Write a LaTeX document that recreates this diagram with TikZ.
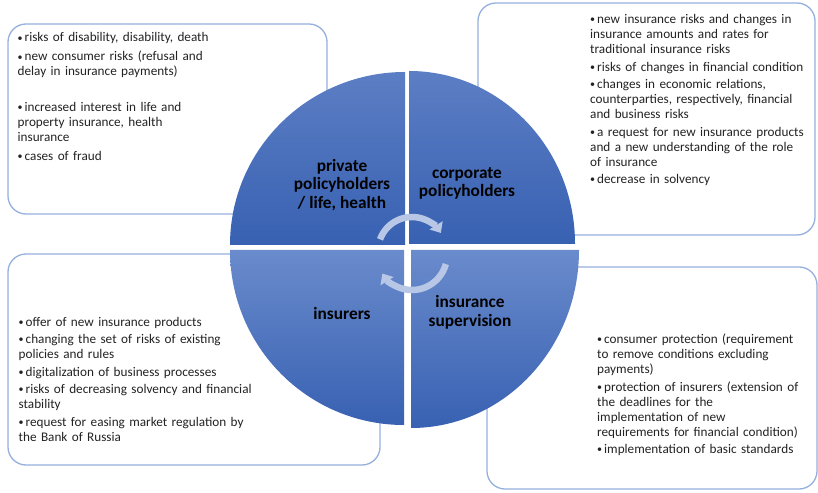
\documentclass[tikz,border=0pt]{standalone}
\usepackage{fontspec}
\setmainfont{Carlito}
\usetikzlibrary{shapes, positioning, arrows.meta}

\definecolor{rimblue}{RGB}{150,176,222}
\definecolor{quadlight}{RGB}{92,126,196}
\definecolor{quadpale}{RGB}{106,139,204}
\definecolor{quaddark}{RGB}{56,97,178}
\definecolor{arrowpale}{RGB}{184,199,229}
\definecolor{listink}{RGB}{35,35,35}

% one bullet point with hanging indent, #1 = space after it
\newcommand{\dotmark}{\raisebox{0.9pt}{\fontsize{10}{10}\selectfont\textbullet}}
\newcommand{\entry}[2][2.5pt]{\hangindent=7pt\hangafter=1\makebox[7pt][l]{\dotmark}#2\par\vspace{#1}}

\begin{document}
\begin{tikzpicture}[
          x=1pt, y=1pt,
          panel/.style={draw=rimblue, line width=1.3pt, fill=white, rounded corners=18pt},
          upperquad/.style={top color=quadlight, bottom color=quaddark},
          lowerquad/.style={top color=quadpale, bottom color=quaddark},
          quadlabel/.style={font=\fontsize{17.3}{18.7}\selectfont\bfseries, align=center, inner sep=0pt},
          itemlist/.style={anchor=base west, inner sep=0pt, text width=#1, align=left,
            text=listink, font=\fontsize{13.2}{15}\selectfont},
          cyclearrow/.style={draw=arrowpale, line width=6.5pt, -{Triangle[width=15pt,length=9pt]}}
        ]
        \useasboundingbox (0,0) rectangle (818,492);

        % text panels behind the circle
        \draw[panel] (8,278) rectangle (327,468);
        \draw[panel] (478,257) rectangle (815,489);
        \draw[panel] (8,27) rectangle (380,238);
        \draw[panel] (487,3) rectangle (817,225);

        % four quarters of the circle
        \shade[upperquad] (405,247) -- (230,247) arc[start angle=180, end angle=90, x radius=175, y radius=173] -- cycle;
        \shade[upperquad] (409,248) -- (409,421) arc[start angle=90, end angle=0, x radius=166, y radius=173] -- cycle;
        \shade[lowerquad] (404,242) -- (230,242) arc[start angle=180, end angle=270, x radius=174, y radius=175] -- cycle;
        \shade[lowerquad] (411,242) -- (579,242) arc[start angle=0, end angle=-90, x radius=168, y radius=178] -- cycle;

        \node[quadlabel] (privlabel) at (342,307) {private\\policyholders\\/ life, health};
        \node[quadlabel] (corplabel) at (467,308.5) {corporate\\policyholders};
        \node[quadlabel] (insurlabel) at (342,179) {insurers};
        \node[quadlabel] (superlabel) at (470,179.5) {insurance\\supervision};

        % cycle arrows in the middle
        \coordinate (uphub) at (412,241);
        \coordinate (lowhub) at (412,237);
        \draw[cyclearrow] ([shift={(160:34)}]uphub) arc[start angle=160, end angle=32, radius=34];
        \draw[cyclearrow] ([shift={(-15:35)}]lowhub) arc[start angle=-15, end angle=-148, radius=35];

        \node[itemlist=300pt] (privlist) at (17.5,450) {%
          \entry[4pt]{risks of disability, disability, death}%
          \entry[20.5pt]{new consumer risks (refusal and\\delay in insurance payments)}%
          \entry[4pt]{increased interest in life and\\property insurance, health\\insurance}%
          \entry{cases of fraud}};

        \node[itemlist=250pt] (corplist) at (590,468.3) {%
          \entry{new insurance risks and changes in\\insurance amounts and rates for\\traditional insurance risks}%
          \entry{risks of changes in financial condition}%
          \entry{changes in economic relations,\\counterparties, respectively, financial\\and business risks}%
          \entry{a request for new insurance products\\and a new understanding of the role\\of insurance}%
          \entry{decrease in solvency}};

        \node[itemlist=280pt] (insurlist) at (18.5,165.7) {%
          \entry{offer of new insurance products}%
          \entry{changing the set of risks of existing\\policies and rules}%
          \entry{digitalization of business processes}%
          \entry{risks of decreasing solvency and financial\\stability}%
          \entry{request for easing market regulation by\\the Bank of Russia}};

        \node[itemlist=250pt] (superlist) at (597,148.3) {%
          \entry{consumer protection (requirement\\to remove conditions excluding\\payments)}%
          \entry{protection of insurers (extension of\\the deadlines for the\\implementation of new\\requirements for financial condition)}%
          \entry{implementation of basic standards}};

        \end{tikzpicture}
\end{document}
